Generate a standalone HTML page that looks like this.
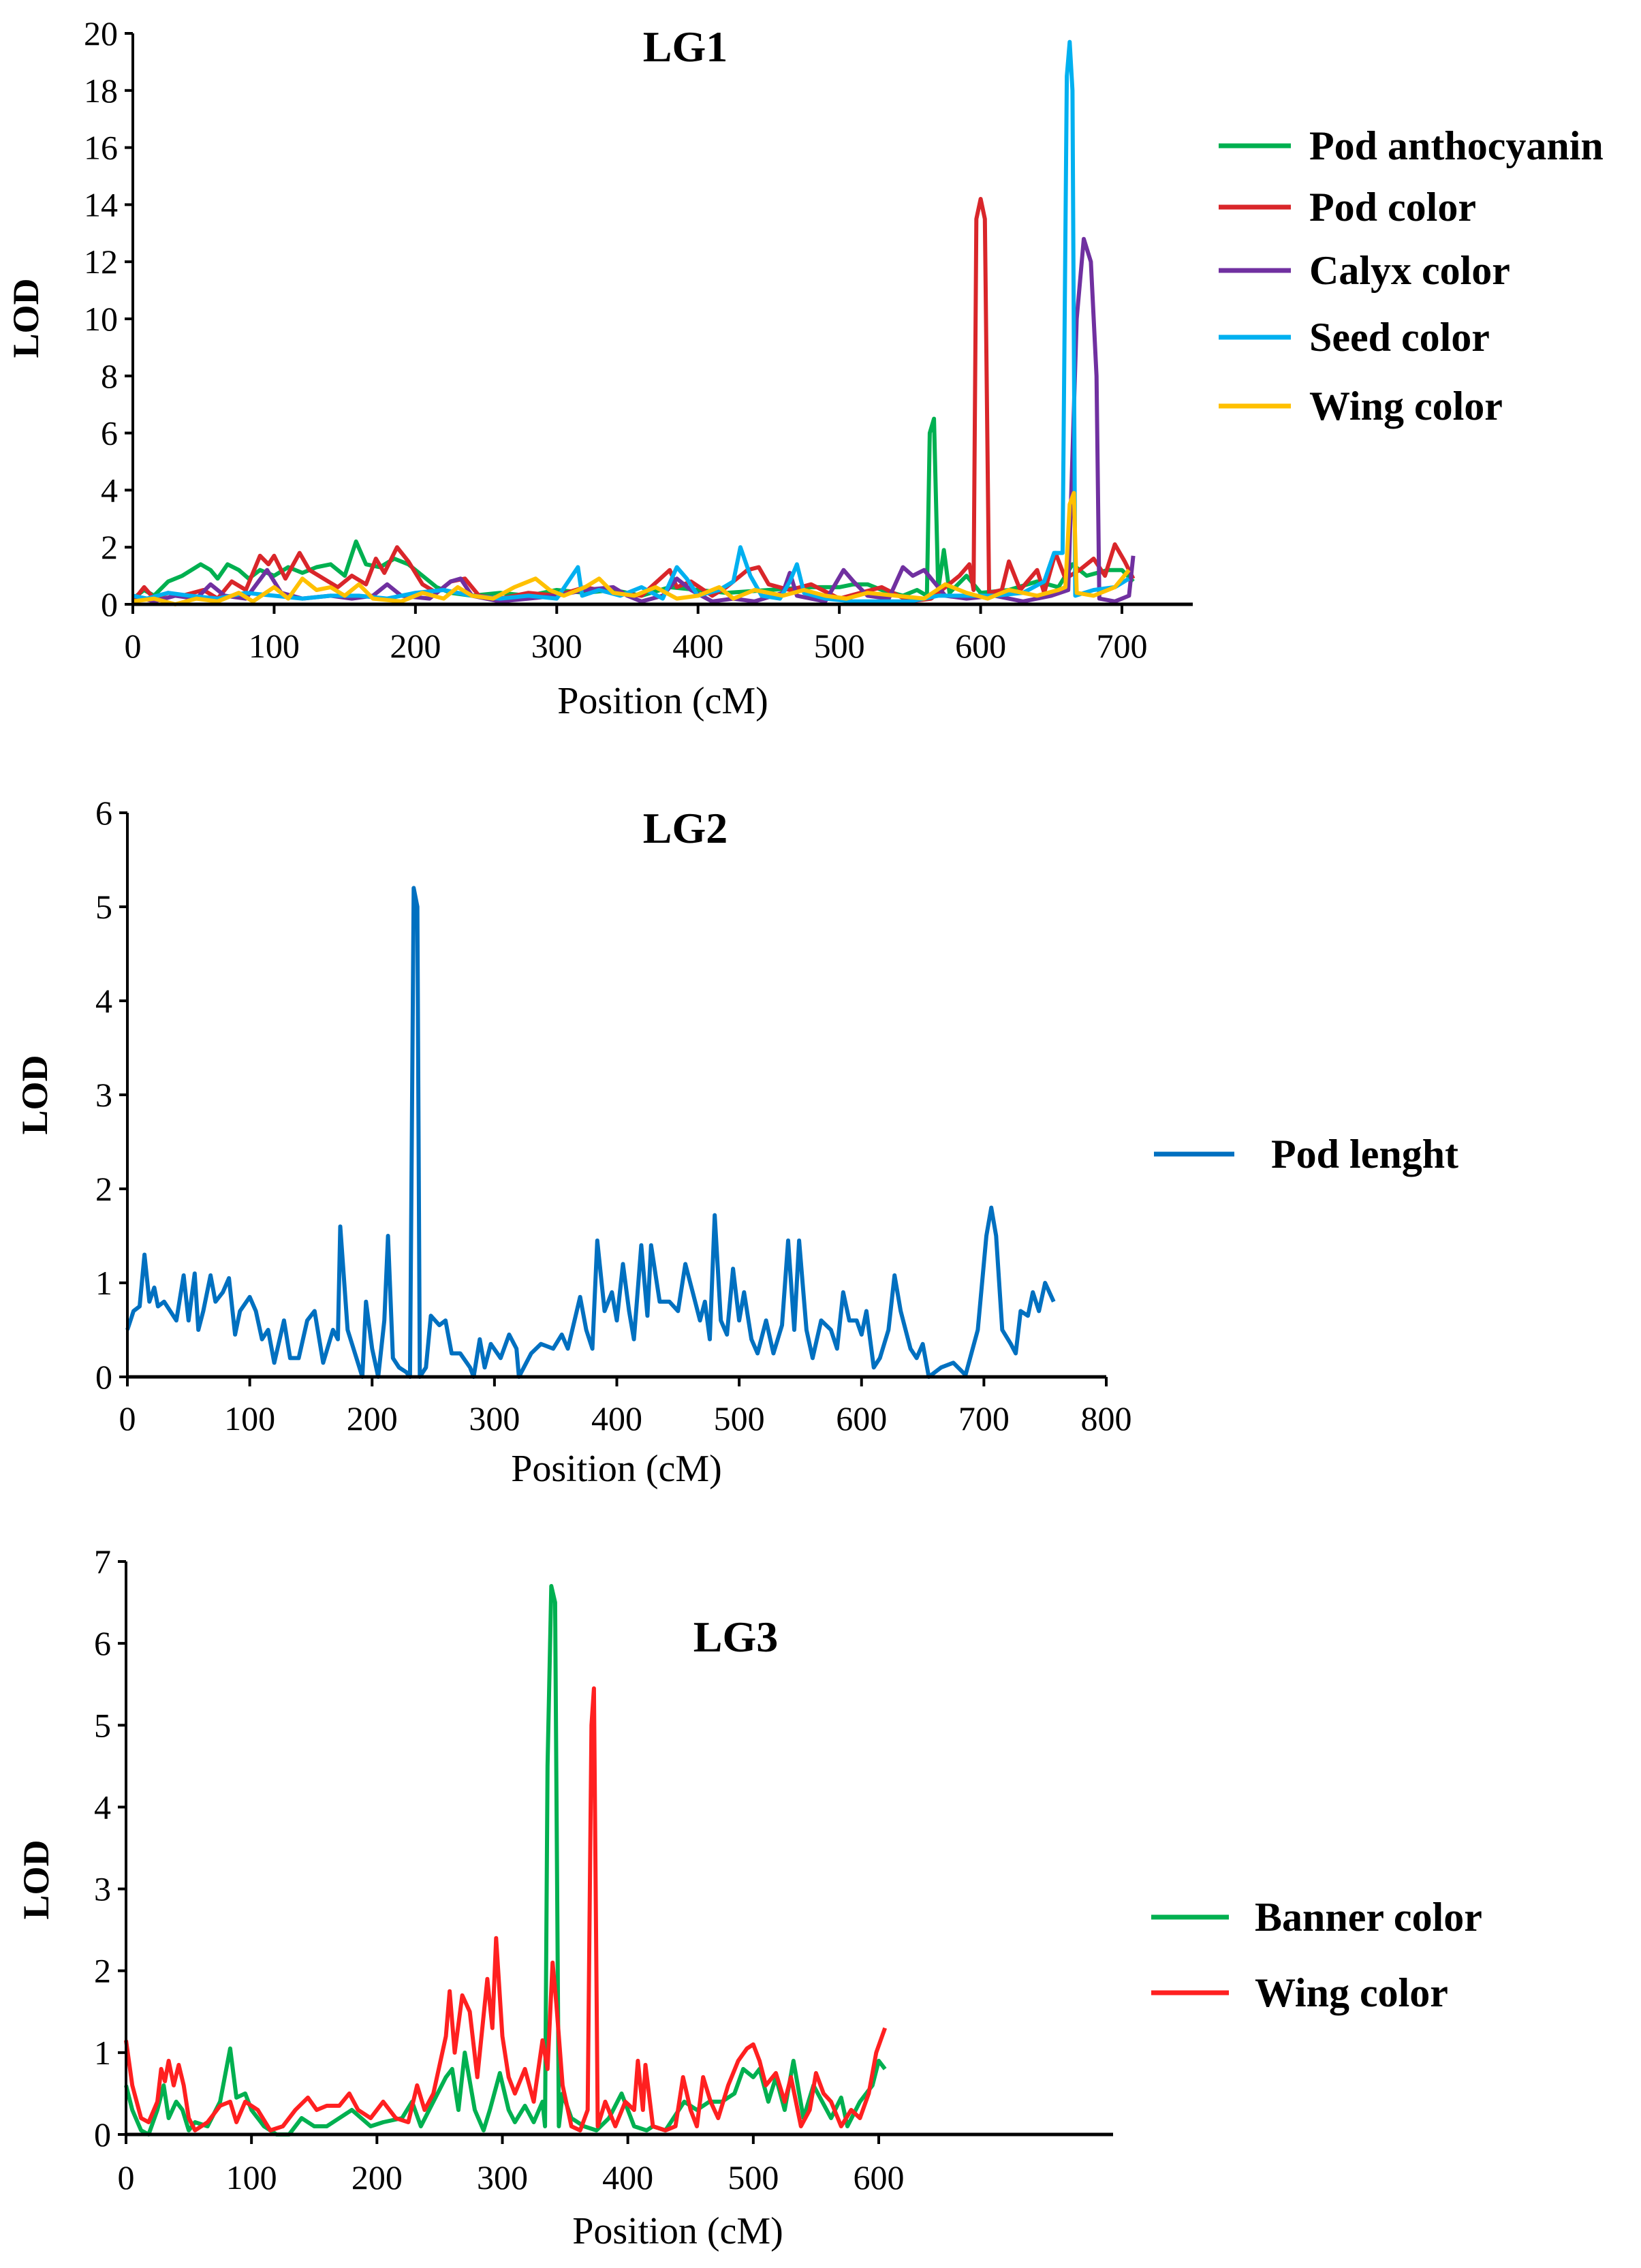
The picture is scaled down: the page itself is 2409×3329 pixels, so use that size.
<!DOCTYPE html>
<html><head><meta charset="utf-8"><style>
html,body{margin:0;padding:0;background:#fff;}
svg{display:block;font-family:"Liberation Serif",serif;}
</style></head><body>
<svg id="chart" width="2409" height="3329" viewBox="0 0 2409 3329" xmlns="http://www.w3.org/2000/svg"></svg>
<script>
// LG1 data
const lg1PodAnthocyanin = [[0,0.2],[8,0.5],[15,0.3],[25,0.8],[35,1.0],[48,1.4],[55,1.2],[60,0.9],[67,1.4],[75,1.2],[82,0.9],[90,1.2],[100,1.0],[110,1.3],[120,1.1],[130,1.3],[140,1.4],[150,1.0],[158,2.2],[165,1.4],[175,1.3],[185,1.6],[195,1.4],[205,1.0],[215,0.6],[225,0.4],[240,0.3],[260,0.4],[280,0.3],[300,0.5],[320,0.4],[340,0.5],[360,0.3],[380,0.6],[400,0.5],[420,0.4],[450,0.5],[480,0.6],[500,0.6],[510,0.7],[520,0.7],[530,0.5],[545,0.3],[555,0.5],[562,0.3],[564,6.0],[567,6.5],[570,0.5],[574,1.9],[578,0.4],[590,1.0],[600,0.4],[620,0.5],[640,0.8],[655,0.6],[665,1.4],[675,1.0],[690,1.2],[700,1.2],[708,0.8]];
const lg1PodColor = [[0,0.1],[8,0.6],[15,0.2],[25,0.4],[35,0.3],[50,0.5],[60,0.2],[70,0.8],[80,0.5],[90,1.7],[96,1.4],[100,1.7],[108,0.9],[118,1.8],[125,1.2],[135,0.9],[145,0.6],[155,1.0],[165,0.7],[172,1.6],[178,1.1],[187,2.0],[195,1.5],[205,0.7],[215,0.4],[225,0.8],[235,0.9],[245,0.3],[260,0.2],[280,0.4],[300,0.3],[320,0.6],[340,0.4],[360,0.3],[380,1.2],[385,0.6],[395,0.8],[410,0.3],[420,0.6],[435,1.2],[443,1.3],[450,0.7],[465,0.5],[480,0.7],[500,0.2],[515,0.4],[530,0.6],[550,0.1],[565,0.2],[585,1.0],[592,1.4],[595,0.5],[597,13.5],[600,14.2],[603,13.5],[606,0.4],[615,0.5],[620,1.5],[628,0.5],[640,1.2],[645,0.4],[653,1.8],[660,0.9],[670,1.2],[680,1.6],[688,1.0],[695,2.1],[702,1.5],[708,0.9]];
const lg1CalyxColor = [[0,0.3],[15,0.1],[30,0.3],[45,0.2],[55,0.7],[65,0.3],[80,0.2],[95,1.2],[105,0.4],[120,0.2],[140,0.3],[155,0.2],[170,0.3],[180,0.7],[190,0.3],[210,0.2],[225,0.8],[232,0.9],[240,0.3],[260,0.1],[280,0.2],[300,0.3],[320,0.5],[340,0.6],[350,0.3],[360,0.1],[375,0.3],[385,0.9],[395,0.5],[410,0.1],[425,0.2],[440,0.1],[460,0.4],[465,1.1],[470,0.3],[490,0.1],[503,1.2],[510,0.8],[520,0.3],[535,0.2],[545,1.3],[552,1.0],[560,1.2],[565,0.9],[575,0.3],[590,0.2],[610,0.3],[630,0.1],[650,0.3],[662,0.5],[668,10.0],[673,12.8],[678,12.0],[682,8.0],[684,0.2],[695,0.1],[705,0.3],[708,1.7]];
const lg1SeedColor = [[0,0.3],[10,0.2],[25,0.4],[40,0.3],[60,0.2],[80,0.4],[100,0.3],[120,0.2],[140,0.3],[160,0.3],[180,0.2],[200,0.4],[220,0.5],[240,0.3],[260,0.2],[280,0.3],[300,0.2],[315,1.3],[318,0.3],[330,0.5],[345,0.3],[360,0.6],[375,0.2],[385,1.3],[392,0.9],[400,0.3],[415,0.5],[425,0.8],[430,2.0],[437,1.0],[445,0.3],[458,0.2],[465,0.8],[470,1.4],[475,0.4],[490,0.2],[510,0.1],[530,0.1],[550,0.1],[570,0.3],[590,0.3],[610,0.3],[630,0.4],[645,0.8],[652,1.8],[658,1.8],[661,18.5],[663,19.7],[665,18],[667,0.3],[680,0.5],[695,0.6],[705,0.9]];
const lg1WingColor = [[0,0.1],[15,0.2],[30,0.0],[45,0.2],[60,0.1],[75,0.4],[85,0.1],[100,0.6],[110,0.2],[120,0.9],[130,0.5],[140,0.6],[150,0.3],[160,0.7],[170,0.2],[190,0.1],[205,0.4],[220,0.2],[230,0.6],[240,0.3],[255,0.2],[270,0.6],[285,0.9],[295,0.5],[305,0.3],[320,0.6],[330,0.9],[340,0.4],[355,0.3],[370,0.6],[385,0.2],[400,0.3],[415,0.6],[425,0.2],[440,0.5],[460,0.3],[475,0.5],[490,0.3],[505,0.2],[520,0.4],[540,0.3],[560,0.2],[575,0.7],[590,0.4],[605,0.2],[620,0.5],[640,0.3],[655,0.5],[660,0.6],[663,3.5],[666,3.9],[668,0.4],[680,0.3],[695,0.6],[705,1.2]];
const lg1XTicks = [0,100,200,300,400,500,600,700];
const lg1YTicks = [0,2,4,6,8,10,12,14,16,18,20];
// LG2 data
const lg2PodLength = [[0,0.5],[5,0.7],[10,0.75],[14,1.3],[18,0.8],[22,0.95],[25,0.75],[30,0.8],[35,0.7],[40,0.6],[46,1.08],[50,0.6],[55,1.1],[58,0.5],[62,0.7],[68,1.08],[72,0.8],[78,0.9],[83,1.05],[88,0.45],[92,0.7],[100,0.85],[105,0.7],[110,0.4],[115,0.5],[120,0.15],[128,0.6],[133,0.2],[140,0.2],[147,0.6],[153,0.7],[160,0.15],[168,0.5],[172,0.4],[174,1.6],[180,0.5],[186,0.25],[192,0],[195,0.8],[200,0.3],[205,0],[210,0.6],[213,1.5],[217,0.2],[222,0.1],[228,0.05],[231,0],[234,5.2],[237,5.0],[239,0],[244,0.1],[248,0.65],[255,0.55],[260,0.6],[265,0.25],[272,0.25],[280,0.1],[283,0],[288,0.4],[292,0.1],[297,0.35],[305,0.2],[312,0.45],[318,0.3],[320,0],[330,0.25],[338,0.35],[348,0.3],[355,0.45],[360,0.3],[370,0.85],[375,0.5],[380,0.3],[384,1.45],[390,0.7],[396,0.9],[400,0.6],[405,1.2],[410,0.7],[414,0.4],[420,1.4],[425,0.65],[428,1.4],[435,0.8],[443,0.8],[450,0.7],[456,1.2],[462,0.9],[468,0.6],[472,0.8],[476,0.4],[480,1.72],[485,0.6],[490,0.45],[495,1.15],[500,0.6],[504,0.9],[510,0.4],[515,0.25],[522,0.6],[528,0.25],[535,0.55],[540,1.45],[545,0.5],[549,1.45],[555,0.5],[560,0.2],[567,0.6],[575,0.5],[580,0.3],[585,0.9],[590,0.6],[596,0.6],[600,0.45],[604,0.7],[610,0.1],[615,0.2],[622,0.5],[627,1.08],[632,0.7],[640,0.3],[645,0.2],[650,0.35],[655,0],[665,0.1],[675,0.15],[685,0.02],[695,0.5],[702,1.5],[706,1.8],[710,1.5],[715,0.5],[722,0.35],[726,0.25],[730,0.7],[736,0.65],[740,0.9],[745,0.7],[750,1.0],[757,0.8]];
const lg2XTicks = [0,100,200,300,400,500,600,700,800];
const lg2YTicks = [0,1,2,3,4,5,6];
// LG3 data
const lg3BannerColor = [[0,0.6],[5,0.3],[12,0.05],[18,0],[25,0.3],[30,0.6],[34,0.2],[40,0.4],[45,0.3],[50,0.05],[55,0.15],[65,0.1],[75,0.4],[83,1.05],[88,0.45],[95,0.5],[100,0.3],[110,0.1],[120,0],[130,0],[140,0.2],[150,0.1],[160,0.1],[170,0.2],[180,0.3],[195,0.1],[205,0.15],[220,0.2],[228,0.4],[235,0.1],[245,0.4],[255,0.7],[260,0.8],[265,0.3],[270,1.0],[278,0.3],[285,0.05],[290,0.3],[298,0.75],[305,0.3],[310,0.15],[318,0.35],[325,0.15],[332,0.4],[334,0.1],[336,4.5],[339,6.7],[342,6.5],[345,0.1],[348,0.5],[355,0.2],[365,0.1],[375,0.05],[385,0.2],[395,0.5],[405,0.1],[415,0.05],[420,0.1],[430,0.05],[445,0.4],[455,0.3],[465,0.4],[475,0.4],[485,0.5],[492,0.8],[500,0.7],[505,0.8],[512,0.4],[518,0.7],[525,0.3],[532,0.9],[540,0.2],[548,0.6],[555,0.4],[562,0.2],[570,0.45],[575,0.1],[585,0.4],[595,0.6],[600,0.9],[605,0.8]];
const lg3WingColor = [[0,1.15],[5,0.6],[12,0.2],[18,0.15],[25,0.4],[28,0.8],[31,0.65],[34,0.9],[38,0.6],[42,0.85],[46,0.6],[50,0.2],[55,0.05],[65,0.15],[75,0.35],[83,0.4],[88,0.15],[95,0.4],[105,0.3],[115,0.05],[125,0.1],[135,0.3],[145,0.45],[152,0.3],[160,0.35],[170,0.35],[178,0.5],[185,0.3],[195,0.2],[205,0.4],[215,0.2],[225,0.15],[232,0.6],[238,0.3],[245,0.5],[255,1.2],[258,1.75],[262,1.0],[268,1.7],[274,1.5],[280,0.7],[288,1.9],[292,1.3],[295,2.4],[300,1.2],[305,0.7],[310,0.5],[318,0.8],[325,0.4],[332,1.15],[336,0.8],[340,2.1],[343,1.6],[348,0.6],[355,0.1],[362,0.05],[368,0.3],[371,5.0],[373,5.45],[376,0.1],[382,0.4],[390,0.1],[398,0.4],[405,0.3],[408,0.9],[412,0.3],[414,0.85],[420,0.1],[430,0.05],[438,0.1],[444,0.7],[450,0.3],[455,0.1],[460,0.7],[466,0.4],[472,0.2],[480,0.6],[488,0.9],[495,1.05],[500,1.1],[505,0.9],[510,0.6],[518,0.75],[525,0.4],[530,0.7],[538,0.1],[545,0.3],[550,0.75],[556,0.5],[562,0.4],[570,0.1],[578,0.3],[585,0.2],[592,0.5],[598,1.0],[605,1.3]];
const lg3XTicks = [0,100,200,300,400,500,600];
const lg3YTicks = [0,1,2,3,4,5,6,7];

const NS = "http://www.w3.org/2000/svg";
const svg = document.getElementById('chart');
function mk(tag, attrs, parent, text){
  const e = document.createElementNS(NS, tag);
  for (const k in attrs) e.setAttribute(k, attrs[k]);
  if (text !== undefined) e.textContent = text;
  (parent || svg).appendChild(e);
  return e;
}

function panel(cfg){
  const g = mk('g', {});
  
  
  const sx = v => cfg.x0 + v * (cfg.xPx - cfg.x0) / cfg.xRef;
  const sy = v => cfg.y0 - v * (cfg.y0 - cfg.yTop) / cfg.yMax;
  cfg.series.forEach(s => {
    const d = s.data.map((p,i) => (i ? 'L' : 'M') + sx(p[0]).toFixed(1) + ' ' + sy(p[1]).toFixed(1)).join(' ');
    const path = mk('path', {d: d, fill: 'none', stroke: s.color, 'stroke-width': 6, 'stroke-linejoin': 'round'}, g);
    
    
  });
  const ya = mk('line', {x1: cfg.x0, y1: cfg.yTop, x2: cfg.x0, y2: cfg.y0, stroke: '#000', 'stroke-width': 4}, g);
  
  
  const xa = mk('line', {x1: cfg.x0, y1: cfg.y0, x2: cfg.xEnd, y2: cfg.y0, stroke: '#000', 'stroke-width': 5}, g);
  
  
  cfg.xTicks.forEach(t => {
    mk('line', {x1: sx(t), y1: cfg.y0, x2: sx(t), y2: cfg.y0 + 14, stroke: '#000', 'stroke-width': 4}, g);
    const tl = mk('text', {x: sx(t), y: cfg.y0 + cfg.xLabOff, 'text-anchor': 'middle', 'font-size': 50}, g, String(t));
    
    
  });
  cfg.yTicks.forEach(t => {
    mk('line', {x1: cfg.x0 - 12, y1: sy(t), x2: cfg.x0, y2: sy(t), stroke: '#000', 'stroke-width': 4}, g);
    const tl = mk('text', {x: cfg.x0 - 22, y: sy(t) + 17, 'text-anchor': 'end', 'font-size': 50}, g, String(t));
    
    
  });
  const ttl = mk('text', {x: cfg.titleX, y: cfg.titleY, 'text-anchor': 'middle', 'font-size': 64, 'font-weight': 'bold'}, g, cfg.title);
  
  
  const xt = mk('text', {x: cfg.xTitleX, y: cfg.y0 + cfg.xTitleOff, 'text-anchor': 'middle', 'font-size': 56}, g, 'Position (cM)');
  
  
  const yt = mk('text', {x: 0, y: 0, 'text-anchor': 'middle', 'font-size': 54, 'font-weight': 'bold', transform: 'translate(' + (cfg.yTitleX + 18) + ',' + cfg.yTitleY + ') rotate(-90)'}, g, 'LOD');
  
  
  cfg.series.forEach((s, i) => {
    const ly = cfg.legY[i];
    const lg = mk('g', {}, g);
    
    
    mk('line', {x1: cfg.legX1, y1: ly, x2: cfg.legX2, y2: ly, stroke: s.color, 'stroke-width': 7}, lg);
    mk('text', {x: cfg.legTX, y: ly + 20, 'font-size': 60, 'font-weight': 'bold'}, lg, s.label);
  });
}

panel({name:'lg1-chart', x0:195, xPx:1647, xRef:700, xEnd:1751, y0:887, yTop:49, yMax:20,
  xTicks:lg1XTicks, yTicks:lg1YTicks, xLabOff:78, xTitleOff:160, xTitleX:973,
  title:'LG1', titleX:1006, titleY:90, yTitleX:38, yTitleY:467,
  legX1:1789, legX2:1895, legTX:1922, legY:[214,304,397,495,596],
  series:[
    {id:'pod-anthocyanin', label:'Pod anthocyanin', color:'#00b050', data:lg1PodAnthocyanin},
    {id:'pod-color', label:'Pod color', color:'#d9262a', data:lg1PodColor},
    {id:'calyx-color', label:'Calyx color', color:'#7030a0', data:lg1CalyxColor},
    {id:'seed-color', label:'Seed color', color:'#00b0f0', data:lg1SeedColor},
    {id:'wing-color', label:'Wing color', color:'#ffc000', data:lg1WingColor}
  ]});

panel({name:'lg2-chart', x0:187, xPx:1624, xRef:800, xEnd:1624, y0:2021, yTop:1193, yMax:6,
  xTicks:lg2XTicks, yTicks:lg2YTicks, xLabOff:78, xTitleOff:153, xTitleX:905,
  title:'LG2', titleX:1006, titleY:1237, yTitleX:51, yTitleY:1607,
  legX1:1694, legX2:1812, legTX:1866, legY:[1694],
  series:[
    {id:'pod-length', label:'Pod lenght', color:'#0070c0', data:lg2PodLength}
  ]});

panel({name:'lg3-chart', x0:185, xPx:1290, xRef:600, xEnd:1634, y0:3133, yTop:2292, yMax:7,
  xTicks:lg3XTicks, yTicks:lg3YTicks, xLabOff:80, xTitleOff:160, xTitleX:995,
  title:'LG3', titleX:1080, titleY:2424, yTitleX:53, yTitleY:2759,
  legX1:1690, legX2:1804, legTX:1842, legY:[2814,2925],
  series:[
    {id:'banner-color', label:'Banner color', color:'#00b050', data:lg3BannerColor},
    {id:'wing-color', label:'Wing color', color:'#ff2020', data:lg3WingColor}
  ]});
</script>
</body></html>
